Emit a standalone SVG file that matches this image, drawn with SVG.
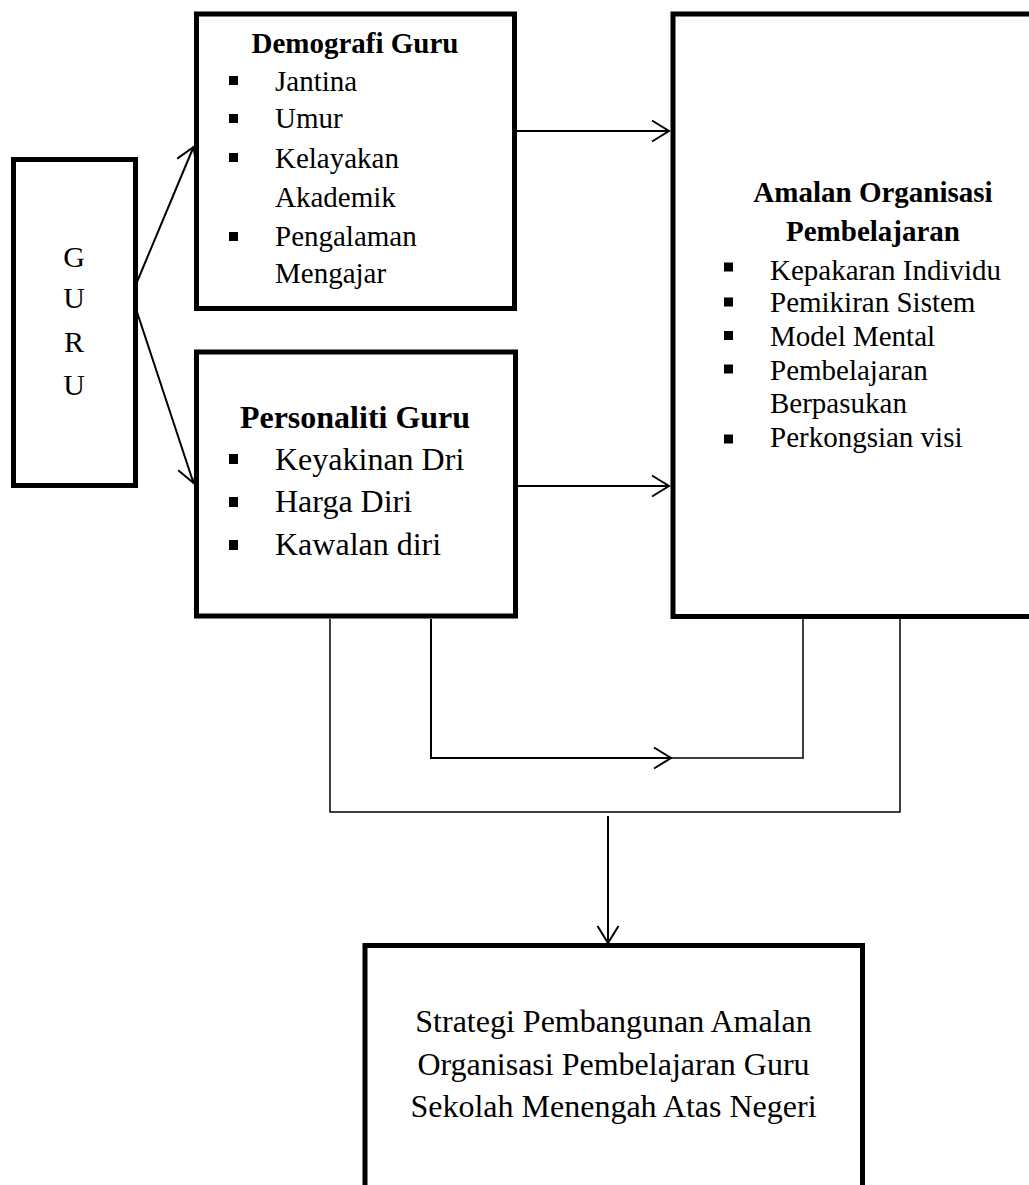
<svg xmlns="http://www.w3.org/2000/svg" width="1029" height="1185" viewBox="0 0 1029 1185">
  <style>
    .box { fill: #fff; stroke: #000; stroke-width: 5; }
    .t { font-family: "Liberation Serif", "Times New Roman", serif; fill: #000; }
    .b { font-weight: bold; }
    .c { text-anchor: middle; }
    .ln { fill: none; stroke: #000; stroke-width: 2; }
    .thin { fill: none; stroke: #000; stroke-width: 1.5; }
    .blt { fill: #000; }
  </style>
  <defs>
    <marker id="arr" viewBox="-20 -13 22 26" refX="0" refY="0" markerWidth="22" markerHeight="26" markerUnits="userSpaceOnUse" orient="auto">
      <path d="M-17,-10.5 L0,0 L-17,10.5" fill="none" stroke="#000" stroke-width="2"/>
    </marker>
  </defs>

  <g id="connectors">
    <line class="ln" x1="137" y1="282" x2="193.5" y2="147" marker-end="url(#arr)"/>
    <line class="ln" x1="137" y1="312" x2="193.5" y2="483" marker-end="url(#arr)"/>
    <line class="ln" x1="517" y1="131" x2="669" y2="131" marker-end="url(#arr)"/>
    <line class="ln" x1="518" y1="486" x2="669" y2="486" marker-end="url(#arr)"/>
    <path class="ln" d="M431,619 V758 H671" marker-end="url(#arr)"/>
    <path class="thin" d="M671,758 H803 V619"/>
    <path class="thin" d="M330,619 V812 H900 V619"/>
    <line class="ln" x1="608" y1="816" x2="608" y2="943" marker-end="url(#arr)"/>
  </g>

  <g id="guru">
    <rect class="box" x="13.5" y="159.5" width="122" height="326"/>
    <text class="t c" x="74" y="267" font-size="30">G</text>
    <text class="t c" x="74" y="308" font-size="30">U</text>
    <text class="t c" x="74" y="352" font-size="30">R</text>
    <text class="t c" x="74" y="395" font-size="30">U</text>
  </g>

  <g id="demografi">
    <rect class="box" x="196.5" y="14" width="318" height="294.5"/>
    <text class="t b c" x="355" y="53" font-size="29">Demografi Guru</text>
    <rect class="blt" x="229" y="76" width="9" height="9"/>
    <rect class="blt" x="229" y="114" width="9" height="9"/>
    <rect class="blt" x="229" y="153" width="9" height="9"/>
    <rect class="blt" x="229" y="232" width="9" height="9"/>
    <text class="t" x="275" y="91" font-size="29">Jantina</text>
    <text class="t" x="275" y="128" font-size="29">Umur</text>
    <text class="t" x="275" y="168" font-size="29">Kelayakan</text>
    <text class="t" x="275" y="207" font-size="29">Akademik</text>
    <text class="t" x="275" y="246" font-size="29">Pengalaman</text>
    <text class="t" x="275" y="283" font-size="29">Mengajar</text>
  </g>

  <g id="personaliti">
    <rect class="box" x="196.5" y="352" width="319" height="264"/>
    <text class="t b c" x="355" y="428" font-size="32">Personaliti Guru</text>
    <rect class="blt" x="229" y="454" width="9" height="10"/>
    <rect class="blt" x="229" y="497" width="9" height="10"/>
    <rect class="blt" x="229" y="540" width="9" height="10"/>
    <text class="t" x="275" y="470" font-size="32">Keyakinan Dri</text>
    <text class="t" x="275" y="512" font-size="32">Harga Diri</text>
    <text class="t" x="275" y="555" font-size="32">Kawalan diri</text>
  </g>

  <g id="amalan">
    <rect class="box" x="673" y="14" width="380" height="602.5"/>
    <text class="t b c" x="873" y="202" font-size="29">Amalan Organisasi</text>
    <text class="t b c" x="873" y="241" font-size="29">Pembelajaran</text>
    <rect class="blt" x="724" y="262.5" width="9" height="9"/>
    <rect class="blt" x="724" y="297.5" width="9" height="9"/>
    <rect class="blt" x="724" y="331" width="9" height="9"/>
    <rect class="blt" x="724" y="364.5" width="9" height="9"/>
    <rect class="blt" x="724" y="434.5" width="9" height="9"/>
    <text class="t" x="770" y="280" font-size="29">Kepakaran Individu</text>
    <text class="t" x="770" y="312" font-size="29">Pemikiran Sistem</text>
    <text class="t" x="770" y="346" font-size="29">Model Mental</text>
    <text class="t" x="770" y="380" font-size="29">Pembelajaran</text>
    <text class="t" x="770" y="413" font-size="29">Berpasukan</text>
    <text class="t" x="770" y="447" font-size="29">Perkongsian visi</text>
  </g>

  <g id="strategi">
    <rect class="box" x="365" y="945.5" width="497.5" height="260"/>
    <text class="t c" x="613.5" y="1032" font-size="32">Strategi Pembangunan Amalan</text>
    <text class="t c" x="613.5" y="1075" font-size="32">Organisasi Pembelajaran Guru</text>
    <text class="t c" x="613.5" y="1117" font-size="32">Sekolah Menengah Atas Negeri</text>
  </g>
</svg>
